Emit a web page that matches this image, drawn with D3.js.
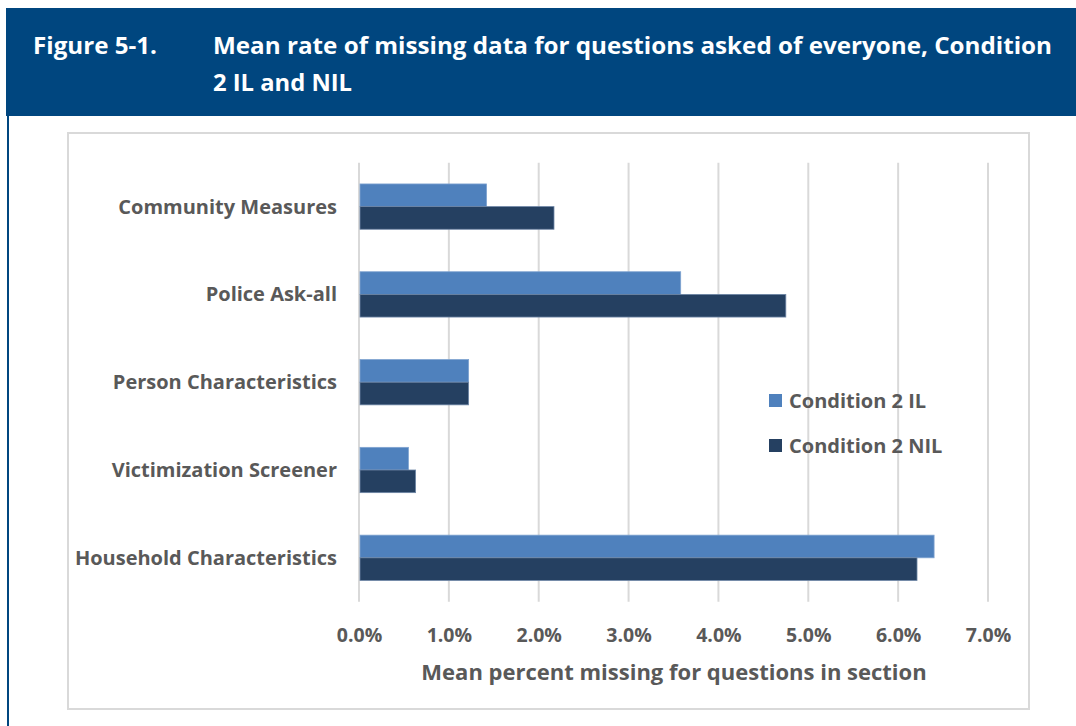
<!DOCTYPE html>
<html>
<head>
<meta charset="utf-8">
<script src="https://cdn.jsdelivr.net/npm/d3@7"></script>
<style>
  html, body { margin: 0; padding: 0; background: #ffffff; }
  svg { display: block; }
  text { font-family: "Open Sans", "Noto Sans", sans-serif; }
</style>
</head>
<body>
<svg id="chart" width="1076" height="726"></svg>
<script>
// ---- data ----
const categories = ["Community Measures", "Police Ask-all", "Person Characteristics", "Victimization Screener", "Household Characteristics"];
const seriesNames = ["Condition 2 IL", "Condition 2 NIL"];
const ilValues = [1.42, 3.58, 1.22, 0.55, 6.40];
const nilValues = [2.17, 4.75, 1.22, 0.63, 6.21];
const xTicks = [0, 1, 2, 3, 4, 5, 6, 7];
const titleNumber = "Figure 5-1.";
const titleLines = ["Mean rate of missing data for questions asked of everyone, Condition", "2 IL and NIL"];
const xAxisTitle = "Mean percent missing for questions in section";

const colors = ["#4F81BD", "#254061"];
const textGray = "#595959";

const svg = d3.select("#chart");

// title band
svg.append("rect").attr("x", 6).attr("y", 8).attr("width", 1070).attr("height", 108).attr("fill", "#00467F");
// left border line of the figure box
svg.append("rect").attr("x", 7).attr("y", 116).attr("width", 2).attr("height", 610).attr("fill", "#00467F");

svg.append("text").attr("x", 33).attr("y", 54)
  .attr("fill", "#fff").attr("font-size", 23).attr("font-weight", 700)
  .attr("textLength", 124).attr("lengthAdjust", "spacingAndGlyphs")
  .text(titleNumber);
const titleWidths = [839, 139];
titleLines.forEach((t, i) => {
  svg.append("text").attr("x", 213).attr("y", 54 + i * 37)
    .attr("fill", "#fff").attr("font-size", 23).attr("font-weight", 700)
    .attr("textLength", titleWidths[i]).attr("lengthAdjust", "spacingAndGlyphs")
    .text(t);
});

// chart frame
svg.append("rect").attr("x", 68).attr("y", 133).attr("width", 961).attr("height", 576)
  .attr("fill", "#fff").attr("stroke", "#D9D9D9").attr("stroke-width", 2);

// scales
const x = d3.scaleLinear().domain([0, 7]).range([359, 988]);
const y = d3.scaleBand().domain(categories).range([162.7, 601.7]).paddingInner(0.484).paddingOuter(0.242);
const ySub = d3.scaleBand().domain(seriesNames).range([0, y.bandwidth()]);

// gridlines
const grid = svg.append("g");
grid.selectAll("line").data(xTicks).join("line")
  .attr("x1", d => x(d)).attr("x2", d => x(d))
  .attr("y1", 162.7).attr("y2", 601.7)
  .attr("stroke", "#D9D9D9").attr("stroke-width", 2);

// bars
const rows = categories.map((c, i) => ({ c, vals: [ilValues[i], nilValues[i]] }));
const g = svg.append("g");
rows.forEach(r => {
  r.vals.forEach((v, j) => {
    g.append("rect")
      .attr("x", x(0) + 1)
      .attr("y", y(r.c) + ySub(seriesNames[j]))
      .attr("width", x(v) - x(0) - 1)
      .attr("height", ySub.bandwidth())
      .attr("fill", colors[j])
      .attr("stroke", j === 0 ? "#7FA3D0" : "#6E86A6")
      .attr("stroke-width", 0.8);
  });
});

// y-axis labels
const yAxis = d3.axisLeft(y).tickSize(0).tickPadding(0);
const yg = svg.append("g").attr("transform", "translate(337,0)").call(yAxis);
yg.select(".domain").remove();
yg.selectAll("text").attr("fill", textGray).attr("font-size", 20).attr("font-weight", 700)
  .attr("font-family", "'Open Sans', sans-serif").attr("dy", "0.35em");

// x-axis labels
const xAxis = d3.axisBottom(x).tickValues(xTicks).tickSize(0).tickPadding(0)
  .tickFormat(d => d.toFixed(1) + "%");
const xg = svg.append("g").attr("transform", "translate(0,627)").call(xAxis);
xg.select(".domain").remove();
xg.selectAll("text").attr("fill", textGray).attr("font-size", 19.5).attr("font-weight", 700)
  .attr("font-family", "'Open Sans', sans-serif").attr("dy", "0.75em");

// x-axis title
svg.append("text").attr("x", 674).attr("y", 680).attr("text-anchor", "middle")
  .attr("fill", textGray).attr("font-size", 22).attr("font-weight", 700)
  .text(xAxisTitle);

// legend
const legend = svg.append("g");
seriesNames.forEach((s, i) => {
  const ly = 394 + i * 45;
  legend.append("rect").attr("x", 769).attr("y", ly).attr("width", 13).attr("height", 13).attr("fill", colors[i]);
  legend.append("text").attr("x", 789).attr("y", ly + 14)
    .attr("fill", textGray).attr("font-size", 20).attr("font-weight", 700).text(s);
});
</script>
</body>
</html>
